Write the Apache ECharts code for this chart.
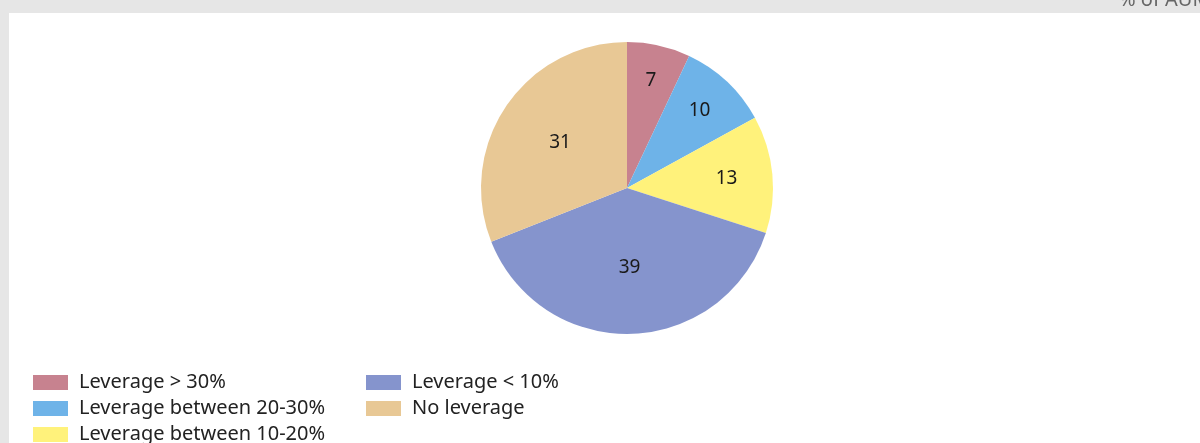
<!DOCTYPE html>
<html>
<head>
<meta charset="utf-8">
<script src="https://cdn.jsdelivr.net/npm/echarts@6/dist/echarts.min.js"></script>
<style>
  html, body { margin: 0; padding: 0; background: #e6e6e6; }
  #chart { width: 1200px; height: 443px; }
</style>
</head>
<body>
<div id="chart"></div>
<script>
// 杠杆分布（% of AUM）
const categories = ['Leverage > 30%', 'Leverage between 20-30%', 'Leverage between 10-20%', 'Leverage < 10%', 'No leverage']
const values = [7, 10, 13, 39, 31]
const colors = ['#c7828f', '#6eb3e8', '#fff27b', '#8594cd', '#e8c895']
const unitLabel = '% of AUM'

const center = [627, 188]
const radius = 146
// 标签离圆心的距离（小扇区更靠外）
const labelDist = [110, 106, 100, 80, 81]

const pieData = categories.map((name, i) => ({ name: name, value: values[i] }))

// 每个扇区中线角度（从 12 点方向顺时针）
const total = values.reduce((a, b) => a + b, 0)
const midAngles = []
let acc = 0
values.forEach(v => {
  midAngles.push((acc + v / 2) / total * Math.PI * 2)
  acc += v
})

const legendBase = {
  orient: 'vertical',
  icon: 'rect',
  itemWidth: 35,
  itemHeight: 15,
  itemGap: 5,
  padding: 0,
  height: 200,
  selectedMode: false,
  textStyle: {
    fontFamily: 'Noto Sans',
    fontSize: 20,
    color: '#222',
    lineHeight: 21,
    padding: [0, 0, 0, 6]
  }
}

const option = {
  backgroundColor: '#e6e6e6',
  color: colors,
  animation: false,
  graphic: [
    {
      type: 'rect',
      shape: { x: 9, y: 13, width: 1200, height: 440 },
      style: { fill: '#ffffff' },
      z: -10
    },
    {
      type: 'text',
      left: 1119,
      top: -10,
      style: {
        text: unitLabel,
        font: '20px "Noto Sans"',
        fill: '#666'
      }
    }
  ],
  legend: [
    Object.assign({}, legendBase, {
      left: 33,
      top: 372,
      data: categories.slice(0, 3)
    }),
    Object.assign({}, legendBase, {
      left: 366,
      top: 372,
      data: categories.slice(3)
    })
  ],
  series: [
    {
      type: 'pie',
      center: center,
      radius: radius,
      startAngle: 90,
      clockwise: true,
      data: pieData,
      label: {
        show: true,
        position: 'inside',
        formatter: '{c}',
        fontFamily: 'Noto Sans',
        fontSize: 19,
        color: '#1a1a1a'
      },
      labelLayout: function (params) {
        const a = midAngles[params.dataIndex]
        const d = labelDist[params.dataIndex]
        return {
          x: center[0] + d * Math.sin(a),
          y: center[1] - d * Math.cos(a),
          align: 'center',
          verticalAlign: 'middle'
        }
      },
      labelLine: { show: false },
      itemStyle: { borderWidth: 0 },
      emphasis: { disabled: true }
    }
  ]
}

const myChart = echarts.init(document.getElementById('chart'))
myChart.setOption(option)
</script>
</body>
</html>
